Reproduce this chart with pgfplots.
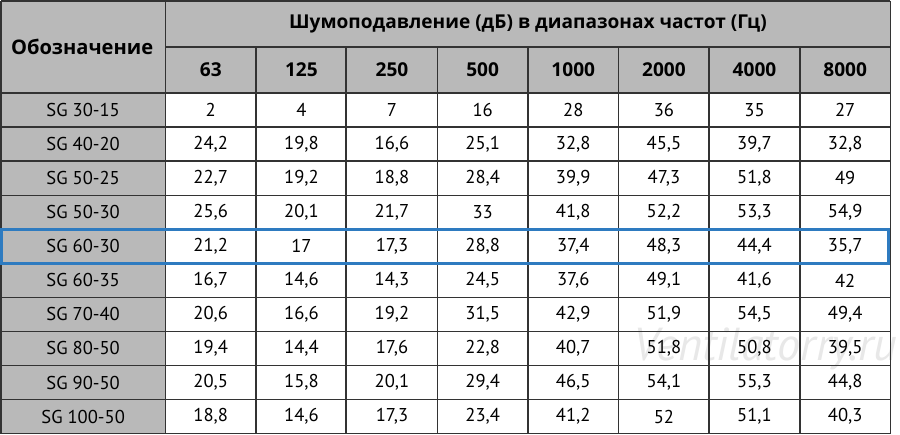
\documentclass[border=0pt]{standalone}
\usepackage{pgfplots}
\pgfplotsset{compat=1.18}
\usepackage{pgfplotstable}
\usepackage{fontspec}
\setmainfont{PT Sans}
\newfontfamily\hdrfamily{Open Sans}
\definecolor{hdr}{HTML}{B9B9B9}
\definecolor{gridc}{HTML}{333333}
\definecolor{hl}{HTML}{2E7BC0}

\pgfplotstableread[col sep=semicolon]{
x;f;r1;r2;r3;r4;r5;r6;r7;r8;r9;r10
216.1;63;2;24,2;22,7;25,6;21,2;16,7;20,6;19,4;20,5;18,8
306.4;125;4;19,8;19,2;20,1;17;14,6;16,6;14,4;15,8;14,6
396.6;250;7;16,6;18,8;21,7;17,3;14,3;19,2;17,6;20,1;17,3
486.9;500;16;25,1;28,4;33;28,8;24,5;31,5;22,8;29,4;23,4
577.1;1000;28;32,8;39,9;41,8;37,4;37,6;42,9;40,7;46,5;41,2
667.4;2000;36;45,5;47,3;52,2;48,3;49,1;51,9;51,8;54,1;52
757.6;4000;35;39,7;51,8;53,3;44,4;41,6;54,5;50,8;55,3;51,1
847.9;8000;27;32,8;49;54,9;35,7;42;49,4;39,5;44,8;40,3
}\freqdata

\pgfplotstableread[col sep=semicolon]{
row;name
1;SG 30-15
2;SG 40-20
3;SG 50-25
4;SG 50-30
5;SG 60-30
6;SG 60-35
7;SG 70-40
8;SG 80-50
9;SG 90-50
10;SG 100-50
}\names

\newcommand\datafont{\fontsize{18.5bp}{20bp}\selectfont}
\newcommand\hdrfont{\hdrfamily\fontsize{19bp}{21bp}\selectfont\bfseries}
\newcommand\hdrfontL{\hdrfamily\fontsize{20bp}{22bp}\selectfont\bfseries}

\begin{document}
\begin{tikzpicture}
\begin{axis}[
  scale only axis, width=900bp, height=445bp,
  xmin=0, xmax=900, ymin=0, ymax=445, y dir=reverse,
  hide axis, clip=false,
  every node near coord/.append style={anchor=center, inner sep=0pt, text=black},
]
% backgrounds
\addplot[fill=hdr, draw=none, mark=none] coordinates {(7,7)(893,7)(893,99)(171,99)(171,438)(7,438)} -- cycle;
\addplot[fill=white, draw=none, mark=none] coordinates {(171,99)(893,99)(893,438)(171,438)} -- cycle;

% watermark
\node[font=\fontsize{46bp}{48bp}\selectfont\itshape, text=black!9, anchor=center] at (axis cs:768,354) {Ventilatorry.ru};

% grid lines
\addplot[gridc, line width=1.6bp, mark=none, unbounded coords=jump] coordinates {
(7,7)(893,7) (nan,nan)
(171,53)(893,53) (nan,nan)
(7,99)(893,99) (nan,nan)
(7,132.9)(893,132.9) (nan,nan)
(7,166.8)(893,166.8) (nan,nan)
(7,200.7)(893,200.7) (nan,nan)
(7,234.6)(893,234.6) (nan,nan)
(7,268.5)(893,268.5) (nan,nan)
(7,302.4)(893,302.4) (nan,nan)
(7,336.3)(893,336.3) (nan,nan)
(7,370.2)(893,370.2) (nan,nan)
(7,404.1)(893,404.1) (nan,nan)
(7,438)(893,438) (nan,nan)
(7,7)(7,438) (nan,nan)
(171,7)(171,438) (nan,nan)
(261,53)(261,438) (nan,nan)
(351,53)(351,438) (nan,nan)
(442,53)(442,438) (nan,nan)
(532,53)(532,438) (nan,nan)
(622,53)(622,438) (nan,nan)
(712,53)(712,438) (nan,nan)
(803,53)(803,438) (nan,nan)
(893,7)(893,438)
};

% highlighted row
\addplot[hl, line width=3bp, mark=none] coordinates {(8,234.8)(891,234.8)(891,268.5)(8,268.5)} -- cycle;

% headers
\addplot[draw=none, mark=none, nodes near coords={Шумоподавление (дБ) в диапазонах частот (Гц)},
  every node near coord/.append style={font=\hdrfont}] coordinates {(532,30)};
\addplot[draw=none, mark=none, nodes near coords={Обозначение},
  every node near coord/.append style={font=\hdrfontL}] coordinates {(88,53)};
\addplot[draw=none, mark=none, nodes near coords, point meta=explicit symbolic,
  every node near coord/.append style={font=\hdrfont}] table[x=x, y expr=76, meta=f] {\freqdata};

% row names
\addplot[draw=none, mark=none, nodes near coords, point meta=explicit symbolic,
  every node near coord/.append style={font=\datafont}] table[x expr=89, y expr={99+33.9*(\thisrow{row}-0.5)}, meta=name] {\names};

% data
\pgfplotsinvokeforeach{1,...,10}{
\addplot[draw=none, mark=none, nodes near coords, point meta=explicit symbolic,
  every node near coord/.append style={font=\datafont}] table[x=x, y expr={99+33.9*(#1-0.5)}, meta=r#1] {\freqdata};
}
\end{axis}
\end{tikzpicture}
\end{document}
